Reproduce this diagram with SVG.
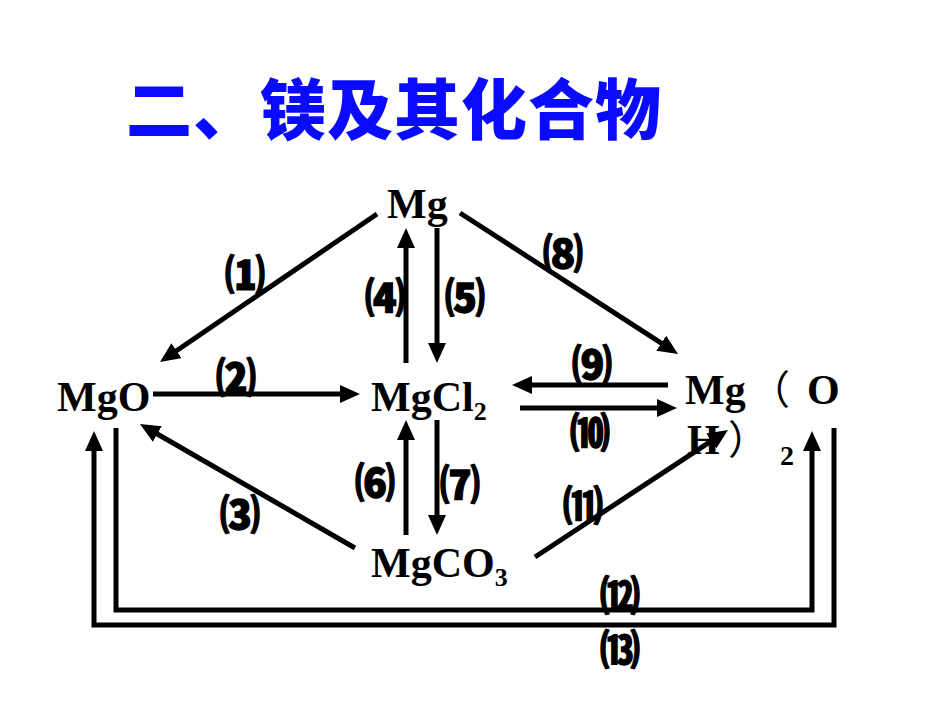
<svg xmlns="http://www.w3.org/2000/svg" width="950" height="713" viewBox="0 0 950 713">
<style>
.title{font-family:"Noto Sans CJK SC","Noto Sans CJK JP",sans-serif;font-weight:900;font-size:66px;letter-spacing:1px;fill:#0a0aff}
.chem{font-family:"Liberation Serif","DejaVu Serif",serif;font-weight:bold;font-size:42px;fill:#000}
.sub{font-size:26px}
.par{font-family:"Noto Sans CJK SC",serif;font-weight:normal;font-size:40px;fill:#000}
.num{font-family:"Noto Sans CJK SC","DejaVu Sans",sans-serif;font-weight:900;font-size:40px;fill:#000;stroke:#000;stroke-width:1.4;text-anchor:middle}
.ln{stroke:#000;stroke-width:5;fill:none;marker-end:url(#ah)}
</style>
<defs>
<marker id="ah" markerUnits="userSpaceOnUse" markerWidth="20" markerHeight="18" refX="12" refY="9" orient="auto">
<path d="M0,0 L20,9 L0,18 z" fill="#000"/>
</marker>
</defs>
<g id="title"><text class="title" x="126" y="134">二、镁及其化合物</text></g>
<g id="n-Mg"><text class="chem" x="387" y="218">Mg</text></g>
<g id="n-MgO"><text class="chem" x="57" y="411">MgO</text></g>
<g id="n-MgCl2"><text class="chem" x="371" y="411">MgCl<tspan class="sub" dy="9">2</tspan></text></g>
<g id="n-MgCO3"><text class="chem" x="371" y="577">MgCO<tspan class="sub" dy="9">3</tspan></text></g>
<g id="n-MgOH2">
<text class="chem" x="685" y="404">Mg</text>
<text class="par" x="750" y="404">（</text>
<text class="chem" x="807" y="404">O</text>
<text class="chem" x="687" y="454">H</text>
<text class="par" x="728" y="454">）</text>
<text class="chem" x="780" y="465" style="font-size:28px">2</text>
</g>
<g id="connectors">
<line class="ln" x1="377" y1="214" x2="166.6" y2="357.5"/>
<line class="ln" x1="406" y1="363" x2="406" y2="236"/>
<line class="ln" x1="437" y1="228" x2="437" y2="355"/>
<line class="ln" x1="460" y1="213" x2="671.3" y2="349.7"/>
<line class="ln" x1="153" y1="394" x2="352" y2="394"/>
<line class="ln" x1="668" y1="385" x2="520" y2="385"/>
<line class="ln" x1="520" y1="408" x2="669" y2="408"/>
<line class="ln" x1="406" y1="535" x2="406" y2="428"/>
<line class="ln" x1="437" y1="420" x2="437" y2="527"/>
<line class="ln" x1="355" y1="548" x2="146.9" y2="428"/>
<line class="ln" x1="535" y1="557" x2="721.3" y2="434.4"/>
<polyline class="ln" points="116,428 116,610 812,610 812,439"/>
<polyline class="ln" points="834,428 834,625 94,625 94,439"/>
</g>
<g id="labels">
<text class="num" x="245" y="289">⑴</text>
<text class="num" x="385" y="312">⑷</text>
<text class="num" x="465" y="312">⑸</text>
<text class="num" x="563" y="268">⑻</text>
<text class="num" x="236" y="392">⑵</text>
<text class="num" x="592" y="379">⑼</text>
<text class="num" x="590" y="447">⑽</text>
<text class="num" x="375" y="497">⑹</text>
<text class="num" x="460" y="499">⑺</text>
<text class="num" x="240" y="529">⑶</text>
<text class="num" x="583" y="520">⑾</text>
<text class="num" x="620" y="610">⑿</text>
<text class="num" x="620" y="664">⒀</text>
</g>
</svg>
